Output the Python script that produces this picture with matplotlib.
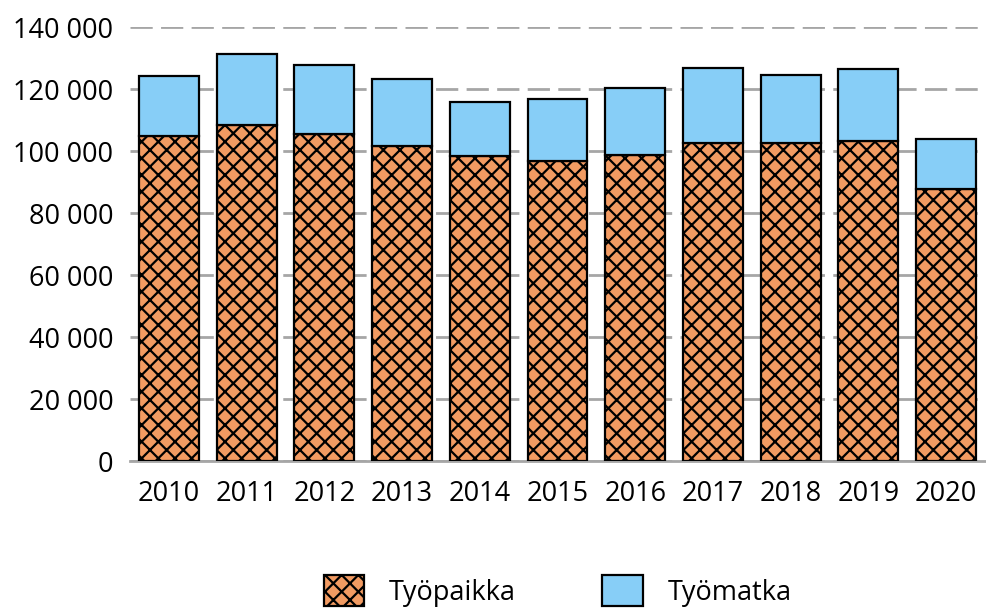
import numpy as np
import matplotlib

matplotlib.use("Agg")
import matplotlib.pyplot as plt
from matplotlib.ticker import FuncFormatter

plt.rcParams["font.family"] = ["Open Sans", "DejaVu Sans"]
plt.rcParams["hatch.linewidth"] = 1.6

years = ["2010", "2011", "2012", "2013", "2014", "2015",
         "2016", "2017", "2018", "2019", "2020"]
tyopaikka = [104800, 108400, 105500, 101600, 98400, 96800,
             98700, 102600, 102600, 103200, 87700]
tyomatka_total = [124200, 131300, 127700, 123200, 115800, 116800,
                  120300, 126800, 124500, 126500, 103900]
tyomatka = [t - p for t, p in zip(tyomatka_total, tyopaikka)]

fig = plt.figure(figsize=(9.87, 6.09), dpi=100)
ax = fig.add_axes([130 / 987, 1 - 461 / 609, 855 / 987, 434 / 609])

x = np.arange(len(years))
ax.bar(x, tyopaikka, width=0.77, color="#F29B62", edgecolor="black",
       hatch="xx", lw=1.6, label="Työpaikka", zorder=3)
ax.bar(x, tyomatka, bottom=tyopaikka, width=0.77, color="#87CEF7",
       edgecolor="black", lw=1.6, label="Työmatka", zorder=3)

ax.set_xlim(-0.5, len(years) - 0.5)
ax.set_ylim(0, 140000)
ax.set_yticks(np.arange(0, 140001, 20000))
ax.yaxis.set_major_formatter(
    FuncFormatter(lambda v, _: f"{int(v):,}".replace(",", " ")))
ax.set_xticks(x)
ax.set_xticklabels(years)
ax.tick_params(axis="both", length=0, labelsize=19.5, colors="black")
ax.tick_params(axis="x", pad=14)
ax.tick_params(axis="y", pad=12)
ax.grid(axis="y", color="#a6a6a6", ls=(0, (8, 3)), lw=2, zorder=0)
ax.axhline(0, color="#a6a6a6", lw=2, zorder=1, clip_on=False)
for s in ax.spines.values():
    s.set_visible(False)

ax.legend(loc="center", bbox_to_anchor=(0.5, (461 - 591) / 434), ncol=2,
          frameon=False, fontsize=19.5, handlelength=1.5, handleheight=1.4,
          columnspacing=3.2, handletextpad=0.9, borderpad=0)

fig.savefig("out.png", dpi=100)
